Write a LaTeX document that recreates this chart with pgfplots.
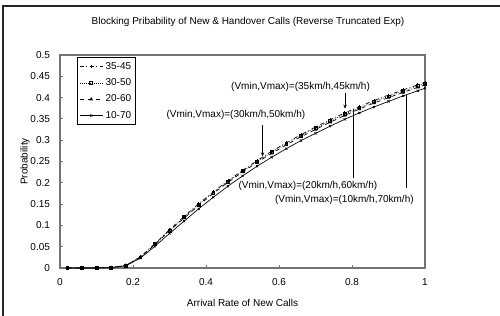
\documentclass[border=0pt]{standalone}
\usepackage{pgfplots}
\pgfplotsset{compat=1.18}
\usepackage{pgfplotstable}
\usepackage{fontspec}
\setmainfont{Liberation Sans}
\usetikzlibrary{arrows.meta}

\pgfplotstableread{
x a b c d
0.02 0 0 0 0
0.06 0 0 0 0
0.10 0 0 0 0
0.14 0.001 0.001 0.001 0.001
0.18 0.006 0.006 0.006 0.005
0.22 0.026 0.025 0.025 0.023
0.26 0.057 0.056 0.055 0.051
0.30 0.090 0.088 0.087 0.081
0.34 0.121 0.119 0.117 0.110
0.38 0.151 0.149 0.147 0.139
0.42 0.179 0.177 0.175 0.166
0.46 0.205 0.203 0.201 0.192
0.50 0.229 0.227 0.225 0.216
0.54 0.252 0.250 0.248 0.239
0.58 0.274 0.272 0.269 0.260
0.62 0.294 0.292 0.289 0.280
0.66 0.313 0.311 0.308 0.299
0.70 0.331 0.328 0.325 0.316
0.74 0.348 0.345 0.342 0.333
0.78 0.364 0.361 0.358 0.349
0.82 0.379 0.376 0.373 0.364
0.86 0.393 0.390 0.387 0.378
0.90 0.406 0.403 0.400 0.391
0.94 0.418 0.415 0.412 0.404
0.98 0.430 0.427 0.424 0.416
1.00 0.436 0.433 0.430 0.422
}\datatable

\begin{document}
\begin{tikzpicture}[font=\fontsize{7.5}{9}\selectfont]
\path[use as bounding box] (0,0) rectangle (375pt,237pt);
\draw[line width=0.9pt, black!85] (2.25pt,-2pt) -- (2.25pt,232.5pt) -- (380pt,232.5pt);
\node at (186pt,220.5pt) {Blocking Pribability of New \& Handover Calls (Reverse Truncated Exp)};
\begin{axis}[
  at={(45pt,36pt)}, anchor=south west,
  scale only axis, width=273.75pt, height=159.75pt,
  xmin=0, xmax=1, ymin=0, ymax=0.5,
  xtick={0,0.2,0.4,0.6,0.8,1},
  ytick={0,0.05,0.1,0.15,0.2,0.25,0.3,0.35,0.4,0.45,0.5},
  xtick pos=left, ytick pos=left,
  tick align=inside, major tick length=2.5pt,
  axis line style={black!55, line width=0.8pt},
  tick style={black!55, line width=0.6pt},
  /pgf/number format/assume math mode=true,
  /pgf/number format/fixed,
  /pgf/number format/precision=2,
  yticklabel style={xshift=-4pt, font=\fontsize{7.5}{9}\selectfont},
  xticklabel style={yshift=-4.5pt, font=\fontsize{7.5}{9}\selectfont},
  xlabel={Arrival Rate of New Calls},
  ylabel={Probability},
  xlabel style={at={(axis description cs:0.5,-0.164)}, anchor=center},
  ylabel style={at={(axis description cs:-0.0959,0.5)}, anchor=center},
  legend style={at={(rel axis cs:0.047,0.99)}, anchor=north west, draw=black, line width=0.5pt,
    font=\fontsize{7.5}{9}\selectfont, row sep=1.5pt, inner sep=1.5pt},
  legend cell align=left,
  every axis plot/.append style={black, line width=0.5pt, mark size=1.1pt, mark options={solid}},
  clip=false,
]
\addplot[dash dot, mark=+] table[x=x,y=a] {\datatable};
\addlegendentry{35-45}
\addplot[densely dotted, mark=square] table[x=x,y=b] {\datatable};
\addlegendentry{30-50}
\addplot[dashed, mark=triangle] table[x=x,y=c] {\datatable};
\addlegendentry{20-60}
\addplot[solid, mark=x] table[x=x,y=d] {\datatable};
\addlegendentry{10-70}

\node at (axis cs:0.659,0.425) {(Vmin,Vmax)=(35km/h,45km/h)};
\draw[-{Stealth[length=3pt,width=2.5pt]}, line width=0.5pt] (axis cs:0.781,0.411) -- (axis cs:0.781,0.374);
\node at (axis cs:0.482,0.359) {(Vmin,Vmax)=(30km/h,50km/h)};
\draw[-{Stealth[length=3pt,width=2.5pt]}, line width=0.5pt] (axis cs:0.555,0.336) -- (axis cs:0.555,0.262);
\node at (axis cs:0.679,0.192) {(Vmin,Vmax)=(20km/h,60km/h)};
\draw[line width=0.5pt] (axis cs:0.803,0.373) -- (axis cs:0.803,0.211);
\node at (axis cs:0.779,0.160) {(Vmin,Vmax)=(10km/h,70km/h)};
\draw[line width=0.5pt] (axis cs:0.95,0.405) -- (axis cs:0.95,0.188);
\end{axis}
\end{tikzpicture}
\end{document}
